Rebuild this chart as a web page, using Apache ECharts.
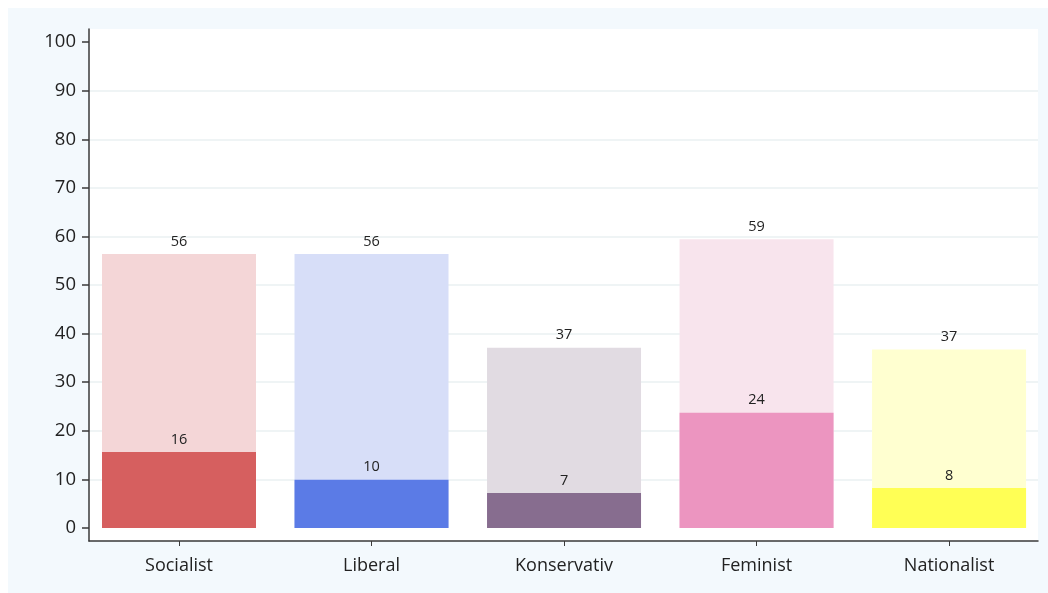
<!DOCTYPE html>
<html>
<head>
<meta charset="utf-8">
<script src="https://cdn.jsdelivr.net/npm/echarts@6/dist/echarts.min.js"></script>
<style>
  html, body { margin: 0; padding: 0; background: #fff; }
  #chart { width: 1048px; height: 593px; }
</style>
</head>
<body>
<div id="chart"></div>
<script>
// Kategorien und Werte
const categories = ['Socialist', 'Liberal', 'Konservativ', 'Feminist', 'Nationalist'];
const totalValues = [56.4, 56.4, 37.1, 59.4, 36.7];   // helle Balken
const partValues = [15.6, 9.9, 7.2, 23.7, 8.2];       // dunkle Balken
const lightColors = ['#f4d6d7', '#d7def8', '#e1dbe2', '#f8e4ed', '#ffffd0'];
const darkColors = ['#d65f5f', '#5b7be6', '#876d8f', '#ec95c0', '#ffff55'];
const yTicks = [0, 10, 20, 30, 40, 50, 60, 70, 80, 90, 100];
const gridValues = [10, 20, 30, 40, 50, 60, 70, 80, 90];

const FONT = '"Open Sans", "Noto Sans", sans-serif';
const chart = echarts.init(document.getElementById('chart'));

function toData(values, colors) {
  return values.map((v, i) => ({ value: [i + 1, v], itemStyle: { color: colors[i] } }));
}

const barLabel = {
  show: true,
  position: 'top',
  distance: 5,
  color: '#222',
  fontSize: 14.5,
  fontFamily: FONT,
  formatter: p => Math.round(p.value[1])
};

const option = {
  backgroundColor: '#fff',
  animation: false,
  graphic: [{
    type: 'rect',
    left: 8, top: 8,
    shape: { width: 1040, height: 585 },
    style: { fill: '#f3f9fd' },
    z: -10
  }],
  grid: {
    left: 89, top: 29, right: 10, bottom: 52,
    show: true,
    backgroundColor: '#fff',
    borderWidth: 0
  },
  xAxis: {
    type: 'value',
    min: 0.5325,
    max: 5.462,
    axisLine: { show: true, onZero: false, lineStyle: { color: '#3a3a3a', width: 1.5 } },
    axisTick: { show: true, length: 5, lineStyle: { color: '#3a3a3a' }, customValues: [1, 2, 3, 4, 5] },
    axisLabel: {
      customValues: [1, 2, 3, 4, 5],
      formatter: v => categories[Math.round(v) - 1],
      color: '#222', fontSize: 18, fontFamily: FONT, margin: 16
    },
    splitLine: { show: false }
  },
  yAxis: [{
    type: 'value',
    min: -2.7,
    max: 102.7,
    axisLine: { show: true, onZero: false, lineStyle: { color: '#3a3a3a', width: 1.5 } },
    axisTick: { show: true, length: 7, lineStyle: { color: '#3a3a3a', width: 1.5 }, customValues: yTicks },
    axisLabel: { customValues: yTicks, color: '#222', fontSize: 18.5, fontFamily: FONT, margin: 13 },
    splitLine: { show: false }
  }, {
    type: 'value',
    min: -2.7,
    max: 102.7,
    position: 'left',
    axisLine: { show: false },
    axisTick: { show: false, customValues: gridValues },
    axisLabel: { show: false, customValues: gridValues },
    splitLine: { show: true, lineStyle: { color: '#eaf0f2', width: 1.5 } }
  }],
  series: [{
    type: 'bar',
    name: 'total',
    barWidth: 154,
    data: toData(totalValues, lightColors),
    label: barLabel
  }, {
    type: 'bar',
    name: 'part',
    barWidth: 154,
    barGap: '-100%',
    data: toData(partValues, darkColors),
    label: barLabel
  }]
};

chart.setOption(option);
</script>
</body>
</html>
